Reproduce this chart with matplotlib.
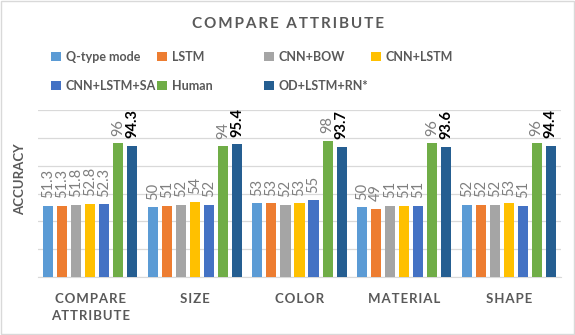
import numpy as np
import matplotlib.pyplot as plt
from matplotlib.patches import Rectangle

plt.rcParams['font.family'] = ['Lato', 'DejaVu Sans']

categories = ['COMPARE\nATTRIBUTE', 'SIZE', 'COLOR', 'MATERIAL', 'SHAPE']
models = ['Q-type mode', 'LSTM', 'CNN+BOW', 'CNN+LSTM',
          'CNN+LSTM+SA', 'Human', 'OD+LSTM+RN*']
qtype = [51.3, 50, 53, 50, 52]
lstm = [51.3, 51, 53, 49, 52]
cnn_bow = [51.8, 52, 52, 51, 52]
cnn_lstm = [52.8, 54, 53, 51, 53]
cnn_lstm_sa = [52.3, 52, 55, 51, 51]
human = [96, 94, 98, 96, 96]
ours = [94.3, 95.4, 93.7, 93.6, 94.4]
series = [qtype, lstm, cnn_bow, cnn_lstm, cnn_lstm_sa, human, ours]
labels = [['51.3', '50', '53', '50', '52'],
          ['51.3', '51', '53', '49', '52'],
          ['51.8', '52', '52', '51', '52'],
          ['52.8', '54', '53', '51', '53'],
          ['52.3', '52', '55', '51', '51'],
          ['96', '94', '98', '96', '96'],
          ['94.3', '95.4', '93.7', '93.6', '94.4']]
colors = ['#5B9BD5', '#ED7D31', '#A5A5A5', '#FFC000',
          '#4472C4', '#70AD47', '#255E91']

grey = '#595959'


def spaced(s, sep='\u2009'):
    return '\n'.join(sep.join(w) for w in s.split('\n'))


fig = plt.figure(figsize=(5.75, 3.35), dpi=100)
ax = fig.add_axes([38 / 575, 1 - 277 / 335, 523 / 575, 167 / 335])

x = np.arange(len(categories))
pitch = 0.134
w = 0.096
for i, (vals, c) in enumerate(zip(series, colors)):
    pos = x + (i - 3) * pitch
    ax.bar(pos, vals, width=w, color=c, label=models[i], zorder=3)
    last = i == len(series) - 1
    for px, v, t in zip(pos, vals, labels[i]):
        ax.annotate(t, (px, v), xytext=(0, 5.5), textcoords='offset points',
                    rotation=90, ha='center', va='bottom', fontsize=10.5,
                    color='black' if last else '#7F7F7F',
                    fontweight='bold' if last else 'normal')

ax.set_ylim(0, 120)
ax.set_xlim(-0.5, len(categories) - 0.5)
ax.set_yticks(np.arange(0, 121, 20))
ax.set_yticklabels([])
ax.tick_params(left=False, bottom=False)
ax.grid(axis='y', color='#D9D9D9', linewidth=0.9, zorder=0)
for s in ['top', 'right', 'left']:
    ax.spines[s].set_visible(False)
ax.spines['bottom'].set_color('#D9D9D9')
ax.set_xticks(x)
ax.set_xticklabels([spaced(c, '\u200a') for c in categories], fontsize=9.5,
                   fontweight='bold', color=grey, linespacing=1.5)
ax.tick_params(axis='x', pad=8)

fig.text(20 / 575, 1 - 179 / 335, 'ACCURACY', rotation=90, ha='center',
         va='center', fontsize=9.5, fontweight='bold', color=grey)

fig.text(0.5, 1 - 24 / 335, spaced('COMPARE ATTRIBUTE'), ha='center',
         va='center', fontsize=11, fontweight='bold', color=grey)

handles, lbls = ax.get_legend_handles_labels()
col_x = [40, 146, 253, 360]
for k in range(4):
    idx = [j for j in (k, k + 4) if j < len(handles)]
    leg = fig.legend([handles[j] for j in idx], [lbls[j] for j in idx],
                     ncol=1, loc='upper left',
                     bbox_to_anchor=(col_x[k] / 575, 1 - 40 / 335),
                     frameon=False, fontsize=9, handlelength=0.75,
                     handleheight=0.75, handletextpad=0.4, labelspacing=1.3)
    for t in leg.get_texts():
        t.set_color(grey)
        t.set_fontweight('bold')

fig.patches.append(Rectangle((0.002, 0.003), 0.996, 0.994,
                             transform=fig.transFigure, fill=False,
                             edgecolor='#D9D9D9', linewidth=1))

fig.savefig('out.png', dpi=100)
